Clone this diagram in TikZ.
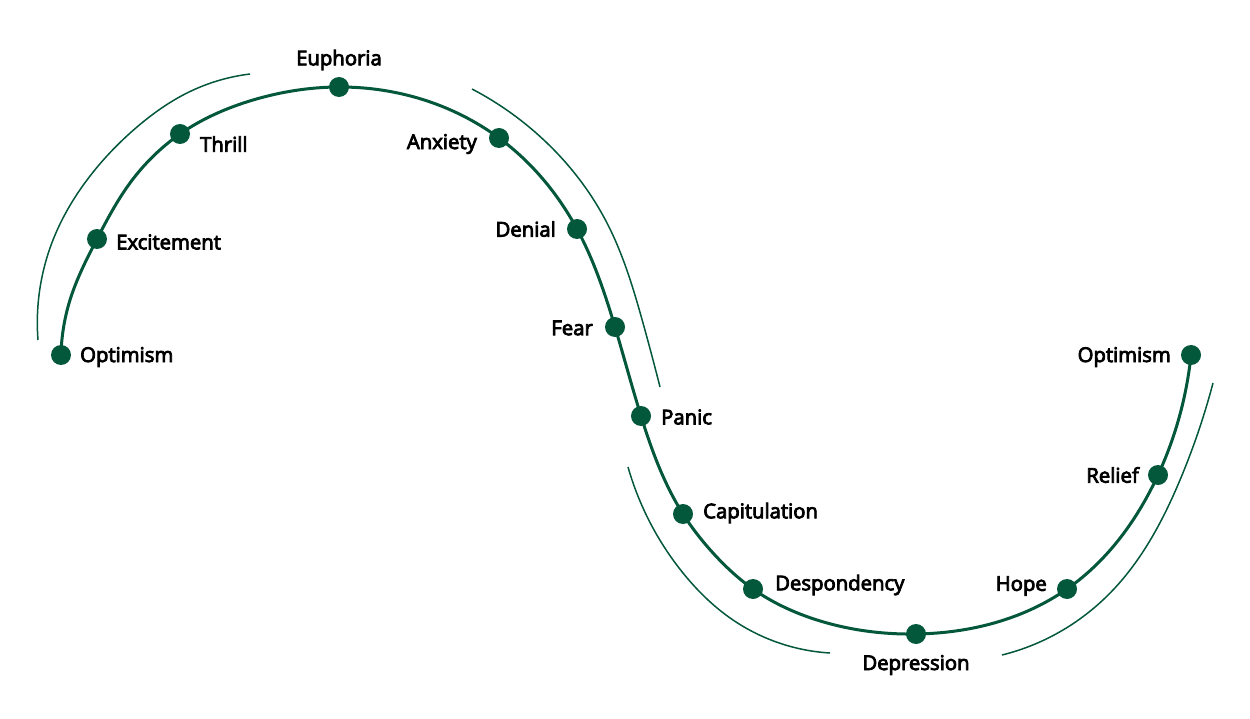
\documentclass[tikz,border=0pt]{standalone}
\usepackage{fontspec}
\setmainfont{Open Sans}
\newfontfamily\lblfont{Open Sans}[FakeBold=4]
\usetikzlibrary{hobby}
\definecolor{cgreen}{HTML}{03573B}
\begin{document}
\begin{tikzpicture}[x=1pt,y=-1pt,
  dot/.style={circle,fill=cgreen,inner sep=0pt,minimum size=20pt},
  lbl/.style={font=\lblfont\fontsize{20.3}{24}\selectfont,text=black,inner sep=0pt},
  maincurve/.style={draw=cgreen,line width=3pt,use Hobby shortcut},
  guide/.style={draw=cgreen,line width=1.5pt,use Hobby shortcut}]
\useasboundingbox (0,0) rectangle (1250,719);
\coordinate (p1) at (61,355);
\coordinate (p2) at (97,239);
\coordinate (p3) at (180,134);
\coordinate (p4) at (339,87);
\coordinate (p5) at (499,138);
\coordinate (p6) at (577,229);
\coordinate (p7) at (615,327);
\coordinate (p8) at (641,416);
\coordinate (p9) at (683,514);
\coordinate (p10) at (753,589);
\coordinate (p11) at (916,634);
\coordinate (p12) at (1067,589);
\coordinate (p13) at (1158,475);
\coordinate (p14) at (1191,355);
\draw[maincurve] (p1) .. (70,300) .. (p2) .. (130,183) .. (p3) .. (253,100) .. (p4) .. (p5) .. (p6) .. (p7) .. (p8) .. (p9) .. (713,553) .. (p10) .. (817,620) .. (p11) .. (p12) .. (p13) .. (p14);
% guide arcs
\draw[guide] (38,340) .. (53,240) .. (87,180) .. (137,127) .. (187,93) .. (250,74);
\draw[guide] (472,89) .. (547,143) .. (607,223) .. (643,323) .. (660,387);
\draw[guide] (628,467) .. (683,573) .. (733,620) .. (830,653);
\draw[guide] (1002,655) .. (1063,630) .. (1113,590) .. (1180,480) .. (1213,383);
% dots
\foreach \i in {1,...,14} \node[dot] (d\i) at (p\i) {};
% labels
\node[lbl,anchor=west] (t1) at (80,357) {Optimism};
\node[lbl,anchor=west] (t2) at (116,242) {Excitement};
\node[lbl,anchor=west] (t3) at (200,144) {Thrill};
\node[lbl] (t4) at (339,60) {Euphoria};
\node[lbl,anchor=east] (t5) at (477,144) {Anxiety};
\node[lbl,anchor=east] (t6) at (556,229) {Denial};
\node[lbl,anchor=east] (t7) at (593,328) {Fear};
\node[lbl,anchor=west] (t8) at (661,417) {Panic};
\node[lbl,anchor=west] (t9) at (703,513) {Capitulation};
\node[lbl,anchor=west] (t10) at (775,585) {Despondency};
\node[lbl] (t11) at (916,665) {Depression};
\node[lbl,anchor=east] (t12) at (1047,586) {Hope};
\node[lbl,anchor=east] (t13) at (1139,475) {Relief};
\node[lbl,anchor=east] (t14) at (1171,357) {Optimism};
\end{tikzpicture}
\end{document}
